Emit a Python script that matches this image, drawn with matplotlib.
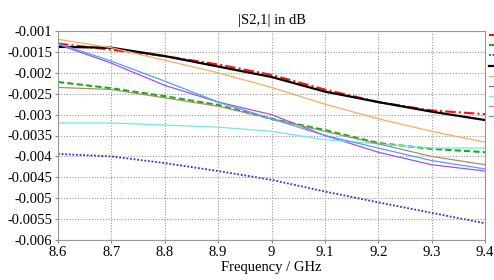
import matplotlib
matplotlib.use("Agg")
import matplotlib.pyplot as plt

freq = [8.6, 8.7, 8.8, 8.9, 9.0, 9.1, 9.2, 9.3, 9.4]

red = [-0.0013, -0.00145, -0.0016, -0.0018, -0.00205, -0.0024, -0.0027, -0.0029, -0.00299]
green = [-0.00222, -0.00237, -0.00256, -0.00277, -0.0031, -0.00337, -0.00368, -0.00382, -0.0039]
blue_dot = [-0.00394, -0.004, -0.00416, -0.00435, -0.00456, -0.00484, -0.0051, -0.00535, -0.0056]
black = [-0.00138, -0.0014, -0.0016, -0.00185, -0.0021, -0.00245, -0.0027, -0.00293, -0.00313]
orange = [-0.0012, -0.0014, -0.0017, -0.002, -0.00235, -0.00275, -0.0031, -0.0034, -0.00366]
purple = [-0.00132, -0.00177, -0.0023, -0.0027, -0.003, -0.0035, -0.0039, -0.0042, -0.00435]
cyan = [-0.0032, -0.0032, -0.00325, -0.0033, -0.0034, -0.0036, -0.0037, -0.0038, -0.0038]
brown = [-0.00235, -0.0024, -0.0026, -0.0028, -0.0031, -0.0034, -0.0037, -0.004, -0.0042]
light_blue = [-0.0013, -0.00172, -0.0022, -0.0027, -0.0031, -0.0035, -0.0038, -0.0041, -0.0043]

xticks = [8.6, 8.7, 8.8, 8.9, 9.0, 9.1, 9.2, 9.3, 9.4]
xlabels = ["8.6", "8.7", "8.8", "8.9", "9", "9.1", "9.2", "9.3", "9.4"]
yticks = [-0.001, -0.0015, -0.002, -0.0025, -0.003, -0.0035, -0.004, -0.0045, -0.005, -0.0055, -0.006]
ylabels = ["-0.001", "-0.0015", "-0.002", "-0.0025", "-0.003", "-0.0035", "-0.004", "-0.0045", "-0.005", "-0.0055", "-0.006"]

plt.rcParams['font.family'] = ['Liberation Serif', 'DejaVu Serif']

fig = plt.figure(figsize=(4.94, 2.8), dpi=100)
ax = fig.add_axes([58/494, 1-240/280, 427/494, 209/280])

lines = []
lines += ax.plot(freq, red, color="#ff1010", lw=1.5, ls=(0, (5, 1.5, 1, 1.5)))
lines += ax.plot(freq, green, color="#10b010", lw=1.5, ls=(0, (3, 1.5)))
lines += ax.plot(freq, blue_dot, color="#3030e8", lw=1.3, ls=(0, (1, 1)))
lines += ax.plot(freq, black, color="black", lw=1.6)
lines += ax.plot(freq, orange, color="#ffa860", lw=0.9)
lines += ax.plot(freq, purple, color="#a050f0", lw=0.9)
lines += ax.plot(freq, cyan, color="#70e8e8", lw=0.9)
lines += ax.plot(freq, brown, color="#b08a6a", lw=0.9)
lines += ax.plot(freq, light_blue, color="#4da0ff", lw=0.9)

ax.set_xlim(8.6, 9.4)
ax.set_ylim(-0.006, -0.001)
ax.set_xticks(xticks)
ax.set_xticklabels(xlabels)
ax.set_yticks(yticks)
ax.set_yticklabels(ylabels)
ax.tick_params(labelsize=10.5, length=2, color="#888888", pad=2)
ax.grid(True, color="#999999", ls=(0, (1, 1.5)), lw=0.8)
for s in ax.spines.values():
    s.set_color("#999999")

ax.set_title("|S2,1| in dB", fontsize=10.5, pad=5)
ax.set_xlabel("Frequency / GHz", fontsize=10.5, labelpad=2)

# legend sits off to the right edge, only the line stubs show
fig.legend(handles=lines, labels=[""] * len(lines), loc="upper left",
           bbox_to_anchor=(489/494, 1-32/280), frameon=False, fontsize=6,
           handlelength=1.5, labelspacing=0.26, borderaxespad=0, borderpad=0)

fig.savefig("out.png", dpi=100)
